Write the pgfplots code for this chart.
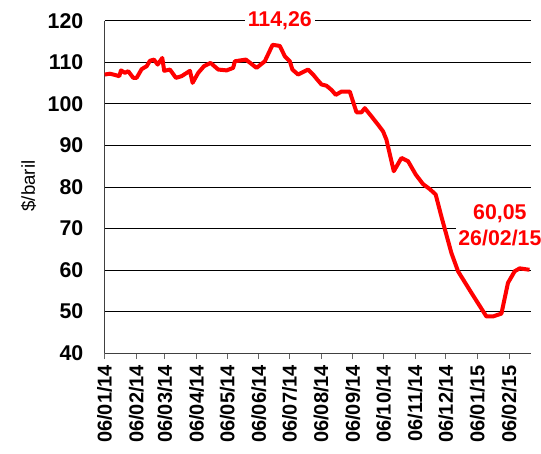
\documentclass[border=0pt]{standalone}
\usepackage{pgfplots}
\pgfplotsset{compat=1.18}
\usepackage{fontspec}
\setmainfont{Liberation Sans}
\definecolor{brent}{HTML}{FF0000}

% day 0 = 06/01/14
\pgfplotstableread{
day price
0 107.1
5.2 107.3
10.1 107.0
14.3 106.7
16 108.1
19.9 107.5
23.1 107.9
28 106.3
31.3 106.3
36.2 108.4
41.1 109.1
44.3 110.4
48.2 110.7
51.9 109.5
56.4 111.1
58.3 108.0
63.9 108.3
69.8 106.3
75.3 106.7
83.5 108.0
86.1 105.1
91.6 107.5
97.2 109.1
103.7 109.9
111.2 108.3
119.4 108.1
125.8 108.7
127.5 110.3
138.3 110.7
148.7 108.7
156.8 110.3
164.4 114.26
171.5 114.0
176.4 111.5
181.3 110.3
183.8 108.3
189.4 107.1
199.2 108.3
204.1 107.1
207.4 106.1
212.3 104.7
217.2 104.4
222.1 103.4
226.3 102.2
231.9 103.0
240 103.0
246.6 98.0
251.5 98.0
254.7 99.0
261.3 97.0
267.7 95.0
272.6 93.4
275.9 91.4
283.1 83.8
290.6 87.0
297.1 86.2
304.6 83.0
311.7 80.7
318.3 79.5
324.1 78.2
329.7 72.9
339.5 64.1
346 59.7
359.1 54.5
373.8 48.8
380.2 48.8
388.5 49.5
394.9 56.9
401.5 59.7
406.4 60.4
416 60.05
}\brent

\begin{document}
\begin{tikzpicture}
\useasboundingbox (-78.5pt,-75pt) rectangle (327.25pt,264.75pt);
\begin{axis}[
  scale only axis,
  width=319.4pt, height=249pt,
  xmin=0, xmax=417, ymin=40, ymax=120,
  axis x line=bottom, axis y line=left,
  axis line style={-, line width=0.75pt, draw=black!75},
  ytick={40,50,...,120},
  ymajorgrids, major grid style={black, line width=0.75pt},
  ytick style={draw=none},
  xtick={0,31,59,90,120,151,181,212,243,273,304,334,365,396},
  xticklabels={06/01/14,06/02/14,06/03/14,06/04/14,06/05/14,06/06/14,06/07/14,06/08/14,06/09/14,06/10/14,06/11/14,06/12/14,06/01/15,06/02/15},
  xtick style={draw=black!60, line width=0.75pt},
  tick align=outside, major tick length=4.5pt,
  x tick label style={rotate=90, anchor=east, font=\fontsize{15}{17}\selectfont\bfseries, xshift=-1pt},
  y tick label style={font=\fontsize{16}{18}\selectfont\bfseries},
  yticklabel style={xshift=-8pt},
  /pgf/number format/assume math mode=true,
  ylabel={\$/baril},
  every axis y label/.style={at={(axis description cs:0,0.503)}, xshift=-57pt, rotate=90, anchor=center, font=\fontsize{14}{16}\selectfont},
  clip=false,
]
\addplot[brent, line width=3pt, line join=round] table[x=day,y=price] {\brent};
\node[fill=white, text=brent, font=\fontsize{16}{18}\selectfont\bfseries, inner sep=2pt] at (axis cs:171.5,120) {114,26};
\node[fill=white, text=brent, font=\fontsize{16}{20}\selectfont\bfseries, align=center, inner sep=2pt] at (axis cs:387,70.8) {60,05\\26/02/15};
\end{axis}
\end{tikzpicture}
\end{document}
